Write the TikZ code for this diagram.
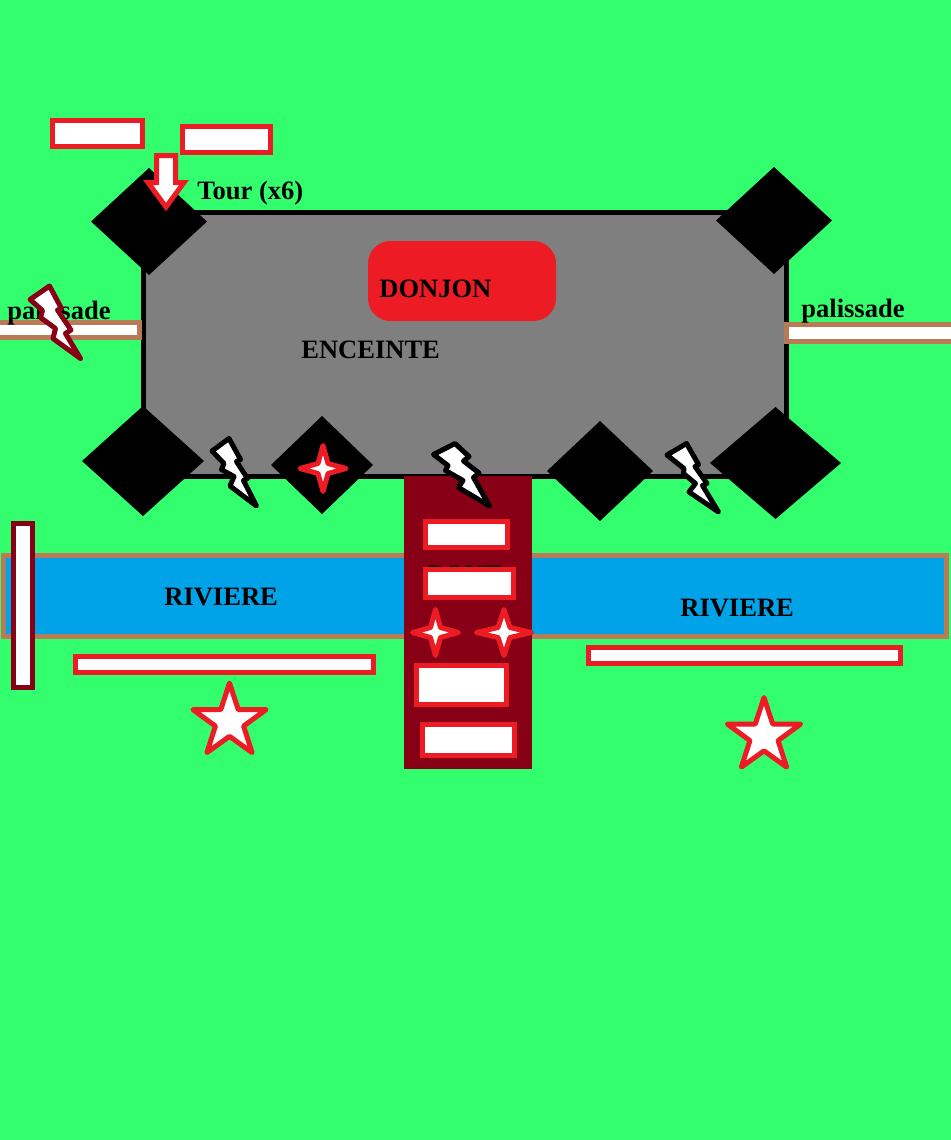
\documentclass[tikz,border=0pt]{standalone}
\usepackage{fontspec}
\setmainfont{Liberation Serif}
\usetikzlibrary{shapes.geometric}

\definecolor{herbe}{HTML}{33FF6E}
\definecolor{rouge}{HTML}{ED1C24}
\definecolor{bordeaux}{HTML}{880015}
\definecolor{brun}{HTML}{B97A57}
\definecolor{eau}{HTML}{00A2E8}
\definecolor{pierre}{HTML}{7F7F7F}

\tikzset{
  plank/.style={draw=rouge, fill=white, line width=0.1cm},
  palissade/.style={draw=brun, fill=white, line width=0.1cm},
  tour/.style={diamond, fill=black, inner sep=0pt, outer sep=0pt},
  etoile/.style={star, star points=5, star point ratio=2.6, draw=rouge, fill=white,
    line width=0.1cm, line join=round, inner sep=0pt, outer sep=0pt, minimum size=1.54cm},
  foudre/.style={fill=white, line width=0.1cm, line join=round},
  label/.style={anchor=base west, inner sep=0pt, font=\bfseries\fontsize{15.1}{18}\selectfont},
  sparkle/.pic={
    \draw[draw=rouge, fill=white, line width=0.1cm, line join=round]
      (0cm, 0.46cm) -- (0.1cm, 0.1cm) -- (0.46cm, 0cm) -- (0.1cm, -0.1cm)
      -- (0cm, -0.46cm) -- (-0.1cm, -0.1cm) -- (-0.46cm, 0cm) -- (-0.1cm, 0.1cm) -- cycle;
  }
}

\begin{document}
\begin{tikzpicture}
  \clip (0cm, 0cm) rectangle (19.02cm, -22.8cm);
  \fill[herbe] (0cm, 0cm) rectangle (19.02cm, -22.8cm);

  % enceinte et tours
  \draw[fill=pierre, line width=0.1cm] (2.87cm, -4.25cm) rectangle (15.73cm, -9.53cm);
  \node[tour, minimum width=2.32cm, minimum height=2.14cm] (tourA) at (2.98cm, -4.43cm) {};
  \node[tour, minimum width=2.32cm, minimum height=2.14cm] (tourB) at (15.48cm, -4.41cm) {};
  \node[tour, minimum width=2.44cm, minimum height=2.2cm] (tourC) at (2.86cm, -9.22cm) {};
  \node[tour, minimum width=2.04cm, minimum height=1.96cm] (tourD) at (6.44cm, -9.3cm) {};
  \node[tour, minimum width=2.12cm, minimum height=2cm] (tourE) at (12cm, -9.42cm) {};
  \node[tour, minimum width=2.62cm, minimum height=2.24cm] (tourF) at (15.51cm, -9.26cm) {};
  \fill[rouge, rounded corners=0.45cm] (7.36cm, -4.82cm) rectangle (11.12cm, -6.42cm);

  % riviere et pont
  \draw[draw=brun, fill=eau, line width=0.1cm] (0.07cm, -11.11cm) rectangle (18.93cm, -12.73cm);
  \fill[bordeaux] (8.08cm, -9.52cm) rectangle (10.64cm, -15.38cm);

  % palissades
  \draw[palissade] (-0.1cm, -6.45cm) rectangle (2.79cm, -6.75cm);
  \draw[palissade] (15.73cm, -6.49cm) rectangle (19.3cm, -6.83cm);

  \node[label] (donjon) at (7.58cm, -5.94cm) {DONJON};
  \node[label] (enceinte) at (6.02cm, -7.17cm) {ENCEINTE};
  \node[label] (tourtxt) at (3.94cm, -3.99cm) {Tour (x6)};
  \node[label] (palissadeG) at (0.14cm, -6.38cm) {palissade};
  \node[label] (palissadeD) at (16.02cm, -6.35cm) {palissade};
  \node[label] (riviereG) at (3.28cm, -12.1cm) {RIVIERE};
  \node[label] (riviereD) at (13.6cm, -12.32cm) {RIVIERE};
  \node[label] (pont) at (8.55cm, -11.66cm) {PONT};

  % planches
  \draw[plank] (1.05cm, -2.41cm) rectangle (2.85cm, -2.93cm);
  \draw[plank] (3.65cm, -2.53cm) rectangle (5.41cm, -3.05cm);
  \draw[plank] (8.51cm, -10.43cm) rectangle (10.15cm, -10.95cm);
  \draw[plank] (8.51cm, -11.39cm) rectangle (10.27cm, -11.95cm);
  \draw[plank] (8.33cm, -13.31cm) rectangle (10.13cm, -14.09cm);
  \draw[plank] (8.45cm, -14.49cm) rectangle (10.29cm, -15.11cm);
  \draw[plank] (1.51cm, -13.13cm) rectangle (7.47cm, -13.45cm);
  \draw[plank] (11.77cm, -12.95cm) rectangle (18.01cm, -13.27cm);
  \draw[plank, draw=bordeaux] (0.27cm, -10.47cm) rectangle (0.65cm, -13.75cm);

  % fleche
  \draw[plank] (3.13cm, -3.11cm) -- (3.51cm, -3.11cm) -- (3.51cm, -3.65cm) -- (3.68cm, -3.65cm)
    -- (3.32cm, -4.14cm) -- (2.96cm, -3.65cm) -- (3.13cm, -3.65cm) -- cycle;

  % etoiles
  \node[etoile] (etoileG) at (4.59cm, -14.43cm) {};
  \node[etoile] (etoileD) at (15.28cm, -14.72cm) {};
  \pic at (6.46cm, -9.37cm) {sparkle};
  \pic at (8.71cm, -12.65cm) {sparkle};
  \pic[xscale=1.2] at (10.08cm, -12.65cm) {sparkle};

  % foudres
  \draw[foudre, draw=bordeaux] (0.99cm, -5.72cm) -- (1.23cm, -6.17cm) -- (1.15cm, -6.2cm) -- (1.42cm, -6.6cm)
    -- (1.31cm, -6.67cm) -- (1.61cm, -7.17cm) -- (1.06cm, -6.77cm) -- (1.11cm, -6.57cm)
    -- (0.81cm, -6.35cm) -- (0.85cm, -6.21cm) -- (0.6cm, -5.99cm) -- cycle;
  \draw[foudre, draw=black] (4.58cm, -8.77cm) -- (4.81cm, -9.19cm) -- (4.73cm, -9.23cm) -- (4.95cm, -9.57cm)
    -- (4.87cm, -9.61cm) -- (5.13cm, -10.12cm) -- (4.6cm, -9.72cm) -- (4.68cm, -9.53cm)
    -- (4.43cm, -9.39cm) -- (4.48cm, -9.27cm) -- (4.24cm, -9.02cm) -- cycle;
  \draw[foudre, draw=black] (9.1cm, -8.87cm) -- (9.38cm, -9.13cm) -- (9.27cm, -9.22cm) -- (9.58cm, -9.46cm)
    -- (9.47cm, -9.55cm) -- (9.79cm, -10.12cm) -- (9.17cm, -9.75cm) -- (9.26cm, -9.61cm)
    -- (8.91cm, -9.41cm) -- (8.96cm, -9.31cm) -- (8.67cm, -9.09cm) -- cycle;
  \draw[foudre, draw=black] (13.73cm, -8.87cm) -- (13.97cm, -9.29cm) -- (13.9cm, -9.33cm) -- (14.14cm, -9.67cm)
    -- (14.05cm, -9.71cm) -- (14.37cm, -10.24cm) -- (13.78cm, -9.84cm) -- (13.91cm, -9.67cm)
    -- (13.67cm, -9.47cm) -- (13.68cm, -9.37cm) -- (13.34cm, -9.1cm) -- cycle;
\end{tikzpicture}
\end{document}
